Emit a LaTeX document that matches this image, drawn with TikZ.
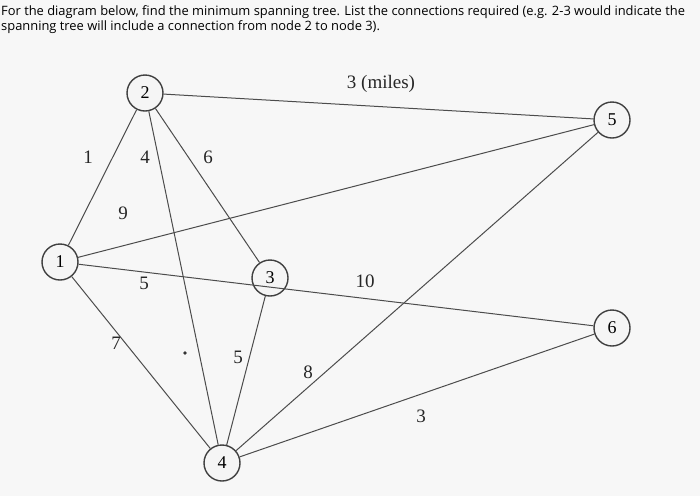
\documentclass[tikz,border=0pt]{standalone}
\usepackage{fontspec}
\setmainfont{Liberation Serif}
\newfontfamily\hdr{Open Sans}
\begin{document}
\begin{tikzpicture}[x=1pt,y=-1pt,
  vtx/.style={circle,draw=black!75,line width=1.4pt,fill=gray!8,minimum size=36pt,inner sep=0pt,font=\fontsize{18}{18}\selectfont},
  edge/.style={draw=black!70,line width=1pt},
  wt/.style={font=\fontsize{19}{19}\selectfont,text=black!85}]
\fill[gray!6] (0,0) rectangle (700,496);
\useasboundingbox (0,0) rectangle (700,496);
\node[anchor=north west,align=left,font=\hdr\fontsize{12.9}{15}\selectfont,inner sep=0pt] (hd) at (1,5)
 {For the diagram below, find the minimum spanning tree.  List the connections required (e.g. 2-3 would indicate the\\spanning tree will include a connection from node 2 to node 3).};
\node[vtx] (n2) at (145,93) {2};
\node[vtx] (n5) at (612,120) {5};
\node[vtx] (n1) at (60,262) {1};
\node[vtx] (n3) at (270,278) {3};
\node[vtx] (n6) at (612,328) {6};
\node[vtx] (n4) at (222,463) {4};
\draw[edge] (n2)--(n5);
\draw[edge] (n2)--(n1);
\draw[edge] (n2)--(n4);
\draw[edge] (n2)--(n3);
\draw[edge] (n1)--(n5);
\draw[edge] (n1)--(n6);
\draw[edge] (n1)--(n4);
\draw[edge] (n3)--(n4);
\draw[edge] (n5)--(n4);
\draw[edge] (n6)--(n4);
\node[wt] (w1) at (381,84) {3 (miles)};
\node[wt] (w2) at (88,157) {1};
\node[wt] (w3) at (145,157) {4};
\node[wt] (w4) at (208,157) {6};
\node[wt] (w5) at (123,213) {9};
\node[wt] (w6) at (144,283) {5};
\node[wt] (w7) at (365,281) {10};
\node[wt] (w8) at (116,343) {7};
\node[wt] (w9) at (238,357) {5};
\node[wt] (w10) at (308,372) {8};
\node[wt] (w11) at (421,416) {3};
\fill[black!80] (185,353) circle (1.8);
\end{tikzpicture}
\end{document}
